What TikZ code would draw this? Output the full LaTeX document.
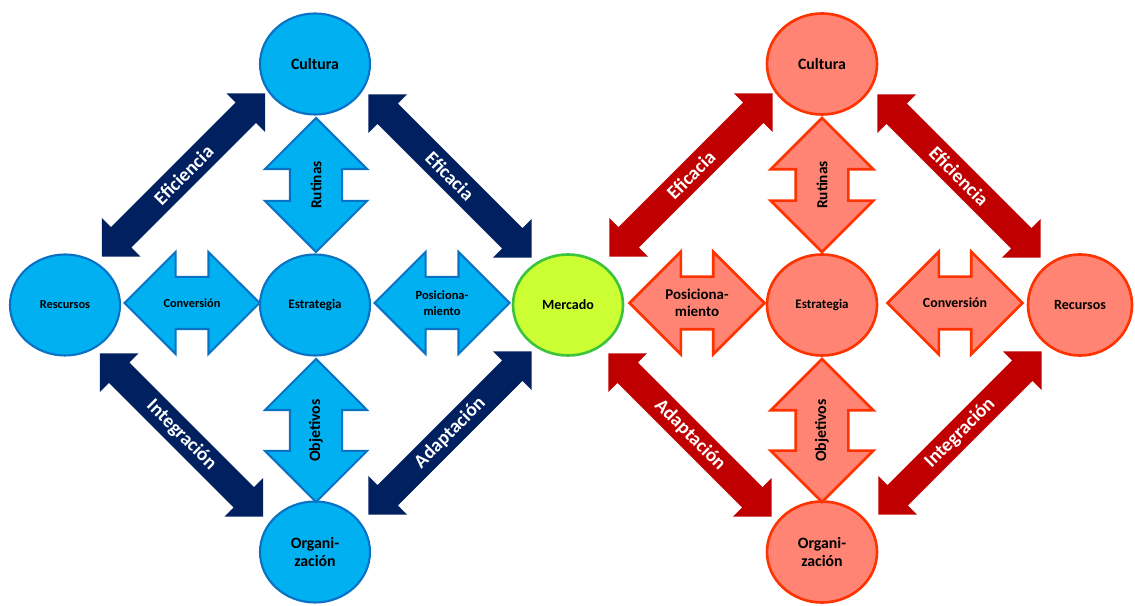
\documentclass[tikz,border=0pt]{standalone}
\usepackage{fontspec}
\setmainfont{Carlito}
\usetikzlibrary{shapes.geometric,shapes.arrows}

\definecolor{cyanfill}{HTML}{00B0F0}
\definecolor{cyanline}{HTML}{0A72C4}
\definecolor{navy}{HTML}{002060}
\definecolor{salmon}{HTML}{FF8473}
\definecolor{redline}{HTML}{FF3300}
\definecolor{darkred}{HTML}{C00000}
\definecolor{limefill}{HTML}{CCFF33}
\definecolor{limeline}{HTML}{3CC43C}

\begin{document}
\begin{tikzpicture}[
  bcirc/.style={ellipse, draw=cyanline, fill=cyanfill, line width=1.2pt,
                minimum width=2.2cm, minimum height=2.02cm, inner sep=0pt, align=center},
  rcirc/.style={bcirc, draw=redline, fill=salmon, line width=1.5pt},
  mcirc/.style={bcirc, draw=limeline, fill=limefill, line width=1.5pt},
  hdbl/.style={double arrow, double arrow head extend=0.5cm, inner xsep=0pt,
               inner ysep=0.5cm, minimum height=2.7cm, line width=1.2pt},
  bdbl/.style={hdbl, draw=cyanline, fill=cyanfill},
  rdbl/.style={hdbl, draw=redline, fill=salmon, line width=1.5pt},
  diag/.style={double arrow, double arrow head extend=0.26cm, inner xsep=0pt,
               inner ysep=0.28cm, minimum height=4.62cm},
  ndiag/.style={diag, fill=navy},
  rdiag/.style={diag, fill=darkred},
  fs/.style 2 args={font=\bfseries\fontsize{#1}{#2}\selectfont, align=center, inner sep=0pt},
  lab/.style={fs={11}{13}, text=white},
]
\useasboundingbox (0,0) rectangle (22.7,12.1);

% Diagonal arrows, left (navy)
\node[ndiag, rotate=45] (effL) at (3.67,8.60) {};
\node[lab, rotate=45] (teffL) at (effL) {Eficiencia};
\node[ndiag, rotate=-45] (efcL) at (9.00,8.58) {};
\node[lab, rotate=-45] (tefcL) at (efcL) {Eficacia};
\node[ndiag, rotate=-45] (intL) at (3.63,3.40) {};
\node[lab, rotate=-45] (tintL) at (intL) {Integración};
\node[ndiag, rotate=45] (adaL) at (9.00,3.44) {};
\node[lab, rotate=45] (tadaL) at (adaL) {Adaptación};

% Diagonal arrows, right (dark red)
\node[rdiag, rotate=45] (efcR) at (13.82,8.60) {};
\node[lab, rotate=45] (tefcR) at (efcR) {Eficacia};
\node[rdiag, rotate=-45] (effR) at (19.18,8.58) {};
\node[lab, rotate=-45] (teffR) at (effR) {Eficiencia};
\node[rdiag, rotate=-45] (adaR) at (13.80,3.40) {};
\node[lab, rotate=-45] (tadaR) at (adaR) {Adaptación};
\node[rdiag, rotate=45] (intR) at (19.20,3.44) {};
\node[lab, rotate=45] (tintR) at (intR) {Integración};

% Left diamond (blue)
\node[bcirc, fs={9}{11}] (culL) at (6.30,10.82) {Cultura};
\node[bcirc, fs={7.4}{9}] (estL) at (6.30,6.00) {Estrategia};
\node[bcirc, fs={9}{10.8}] (orgL) at (6.30,1.06) {Organi-\\zación};
\node[bcirc, fs={7}{8.5}] (resL) at (1.30,6.00) {Rescursos};

\node[bdbl] (convL) at (3.84,6.04) {};
\node[fs={7}{8.5}] (tconvL) at (convL) {Conversión};
\node[bdbl] (posL) at (8.84,6.04) {};
\node[fs={7.1}{9}] (tposL) at (posL) {Posiciona-\\miento};
\node[bdbl, rotate=90, minimum height=2.68cm] (rutL) at (6.32,8.40) {};
\node[fs={8.7}{10}, rotate=90] (trutL) at (rutL) {Rutinas};
\node[bdbl, rotate=90, minimum height=2.86cm] (objL) at (6.32,3.49) {};
\node[fs={9}{10}, rotate=90] (tobjL) at (objL) {Objetivos};

% Centre
\node[mcirc, fs={8}{10}] (mer) at (11.36,6.00) {Mercado};

% Right diamond (red)
\node[rcirc, fs={9}{11}] (culR) at (16.44,10.82) {Cultura};
\node[rcirc, fs={7.4}{9}] (estR) at (16.44,6.00) {Estrategia};
\node[rcirc, fs={9}{10.8}] (orgR) at (16.44,1.06) {Organi-\\zación};
\node[rcirc, fs={8}{10}, minimum width=2.08cm] (recR) at (21.60,6.00) {Recursos};

\node[rdbl] (posR) at (13.94,6.04) {};
\node[fs={8.5}{9.6}] (tposR) at (posR) {Posiciona-\\miento};
\node[rdbl] (convR) at (19.10,6.04) {};
\node[fs={7.9}{9}] (tconvR) at (convR) {Conversión};
\node[rdbl, rotate=90, minimum height=2.68cm] (rutR) at (16.44,8.40) {};
\node[fs={8.7}{10}, rotate=90] (trutR) at (rutR) {Rutinas};
\node[rdbl, rotate=90, minimum height=2.86cm] (objR) at (16.44,3.49) {};
\node[fs={9}{10}, rotate=90] (tobjR) at (objR) {Objetivos};
\end{tikzpicture}
\end{document}
